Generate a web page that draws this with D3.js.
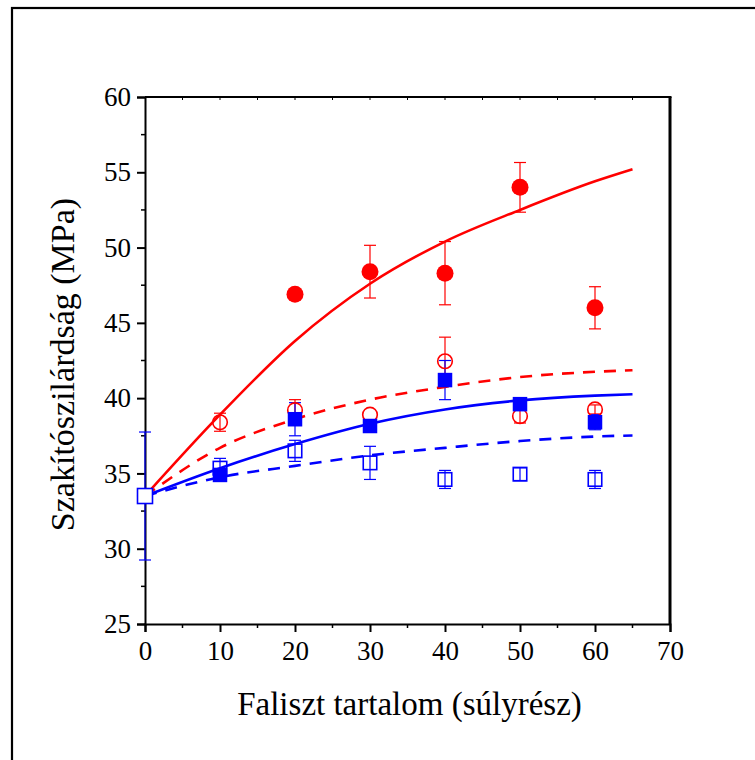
<!DOCTYPE html>
<html>
<head>
<meta charset="utf-8">
<script src="https://cdn.jsdelivr.net/npm/d3@7"></script>
<style>
  html, body { margin: 0; padding: 0; background: #fff; }
  svg { display: block; }
  text { font-family: "Liberation Serif", "Times New Roman", serif; fill: #000; }
</style>
</head>
<body>
<svg id="chart" width="755" height="760"></svg>
<script>
// Wood flour content (parts by weight)
const xValues = [0, 10, 20, 30, 40, 50, 60];

// Measured tensile strength (MPa) with standard deviations
const filledCircleY   = [null, null, 46.9, 48.4, 48.3, 54.0, 46.0];
const filledCircleErr = [null, null, 0, 1.75, 2.1, 1.65, 1.4];
const openCircleY     = [33.5, 38.4, 39.2, 38.9, 42.45, 38.8, 39.25];
const openCircleErr   = [0, 0.6, 0.7, 0, 1.6, 0.45, 0.3];
const filledSquareY   = [33.5, 34.9, 38.6, 38.15, 41.2, 39.6, 38.4];
const filledSquareErr = [0, 0, 1.1, 0, 1.3, 0, 0.5];
const openSquareY     = [33.5, 35.35, 36.5, 35.7, 34.6, 34.95, 34.6];
const openSquareErr   = [4.25, 0.65, 0.7, 1.1, 0.6, 0.42, 0.6];

// Fitted trend curves, sampled along x
const fitX          = [0, 10, 20, 30, 40, 50, 60, 65];
const fitSolidRed   = [33.5, 38.9, 43.8, 47.6, 50.4, 52.5, 54.4, 55.2];
const fitDashedRed  = [33.5, 36.7, 38.6, 39.9, 40.75, 41.4, 41.75, 41.85];
const fitSolidBlue  = [33.5, 35.35, 36.95, 38.3, 39.25, 39.85, 40.17, 40.26];
const fitDashedBlue = [33.5, 34.75, 35.5, 36.2, 36.7, 37.15, 37.45, 37.52];

const xTicks = [0, 10, 20, 30, 40, 50, 60, 70];
const yTicks = [25, 30, 35, 40, 45, 50, 55, 60];

const RED = "#ff0000", BLUE = "#0000ff";
const SERIF = "'Liberation Serif', 'Times New Roman', serif";

const svg = d3.select("#chart");

// outer figure frame (continues past the right and bottom edges)
svg.append("rect")
  .attr("x", 12).attr("y", 8).attr("width", 800).attr("height", 800)
  .attr("fill", "none").attr("stroke", "#000").attr("stroke-width", 2.2);

const pLeft = 145, pRight = 670, pTop = 97, pBottom = 624;
const x = d3.scaleLinear().domain([0, 70]).range([pLeft, pRight]);
const y = d3.scaleLinear().domain([25, 60]).range([pBottom, pTop]);

// axes
const xAxis = d3.axisBottom(x).tickValues(xTicks).tickSize(8).tickPadding(9).tickFormat(d3.format("d"));
const yAxis = d3.axisLeft(y).tickValues(yTicks).tickSize(8).tickPadding(6).tickFormat(d3.format("d"));

const gx = svg.append("g").attr("transform", `translate(0,${pBottom})`).call(xAxis);
const gy = svg.append("g").attr("transform", `translate(${pLeft},0)`).call(yAxis);
[gx, gy].forEach(g => {
  g.attr("font-family", SERIF);
  g.select(".domain").attr("stroke-width", 2).attr("stroke", "#000");
  g.selectAll(".tick line").attr("stroke-width", 2).attr("stroke", "#000");
  g.selectAll(".tick text").style("font-size", "27px").style("font-family", SERIF);
});

// minor ticks
const xMinor = d3.range(5, 70, 10);
const yMinor = d3.range(27.5, 60, 5);
gx.selectAll(".minor").data(xMinor).enter().append("line")
  .attr("x1", d => x(d)).attr("x2", d => x(d)).attr("y1", 0).attr("y2", 4)
  .attr("stroke", "#000").attr("stroke-width", 1.5);
gy.selectAll(".minor").data(yMinor).enter().append("line")
  .attr("y1", d => y(d)).attr("y2", d => y(d)).attr("x1", 0).attr("x2", -4)
  .attr("stroke", "#000").attr("stroke-width", 1.5);

// top and right frame with small inward ticks
svg.append("line").attr("x1", pLeft).attr("x2", pRight + 1.5).attr("y1", pTop).attr("y2", pTop)
  .attr("stroke", "#000").attr("stroke-width", 2);
svg.append("line").attr("x1", pRight).attr("x2", pRight).attr("y1", pTop).attr("y2", pBottom)
  .attr("stroke", "#000").attr("stroke-width", 3);
svg.append("g").selectAll("line").data(d3.range(5, 70, 5)).enter().append("line")
  .attr("x1", d => x(d)).attr("x2", d => x(d)).attr("y1", pTop).attr("y2", pTop + 3)
  .attr("stroke", "#000").attr("stroke-width", 1);

// axis titles
svg.append("text").attr("x", (pLeft + pRight) / 2 + 2).attr("y", 715)
  .attr("text-anchor", "middle").style("font-size", "33px").style("font-family", SERIF)
  .text("Faliszt tartalom (súlyrész)");
svg.append("text").attr("transform", `translate(74,${(pTop + pBottom) / 2 + 4}) rotate(-90)`)
  .attr("text-anchor", "middle").style("font-size", "34px").style("font-family", SERIF)
  .text("Szakítószilárdság (MPa)");

const plot = svg.append("g");

function errorBars(vals, errs, color) {
  const pts = xValues.map((xv, i) => ({ x: xv, y: vals[i], e: errs[i] }))
    .filter(d => d.y != null && d.e > 0);
  const g = plot.append("g").attr("stroke", color).attr("stroke-width", 1.2).attr("fill", "none");
  pts.forEach(d => {
    g.append("line").attr("x1", x(d.x)).attr("x2", x(d.x)).attr("y1", y(d.y - d.e)).attr("y2", y(d.y + d.e));
    [d.y - d.e, d.y + d.e].forEach(v => {
      g.append("line").attr("x1", x(d.x) - 6).attr("x2", x(d.x) + 6).attr("y1", y(v)).attr("y2", y(v));
    });
  });
}

function fitLine(vals, color, dashed) {
  const line = d3.line().x((d, i) => x(fitX[i])).y(d => y(d)).curve(d3.curveMonotoneX);
  plot.append("path").datum(vals).attr("d", line)
    .attr("fill", "none").attr("stroke", color).attr("stroke-width", 2.6)
    .attr("stroke-dasharray", dashed ? "12,9" : null);
}

function points(vals, shape, filled, color) {
  const pts = xValues.map((xv, i) => ({ x: xv, y: vals[i] })).filter(d => d.y != null);
  const g = plot.append("g");
  pts.forEach(d => {
    let m;
    if (shape === "circle") {
      m = g.append("circle").attr("cx", x(d.x)).attr("cy", y(d.y)).attr("r", filled ? 8.5 : 7.3);
    } else {
      const s = filled ? 14.5 : 13.5;
      m = g.append("rect").attr("x", x(d.x) - s / 2).attr("y", y(d.y) - s / 2).attr("width", s).attr("height", s);
    }
    if (filled) m.attr("fill", color);
    else m.attr("fill", "none").attr("stroke", color).attr("stroke-width", 1.6);
  });
}

// error bars
errorBars(openCircleY, openCircleErr, RED);
errorBars(filledCircleY, filledCircleErr, RED);
errorBars(openSquareY, openSquareErr, BLUE);
errorBars(filledSquareY, filledSquareErr, BLUE);

// open markers
points(openCircleY, "circle", false, RED);
points(openSquareY, "rect", false, BLUE);

// trend curves
fitLine(fitSolidRed, RED, false);
fitLine(fitDashedRed, RED, true);
fitLine(fitSolidBlue, BLUE, false);
fitLine(fitDashedBlue, BLUE, true);

// filled markers
points(filledCircleY, "circle", true, RED);
points(filledSquareY, "rect", true, BLUE);

// the shared starting point is drawn as an open square on top
const originG = plot.append("g");
originG.append("rect")
  .attr("x", x(xValues[0]) - 7.5).attr("y", y(openSquareY[0]) - 7.5)
  .attr("width", 15).attr("height", 15)
  .attr("fill", "#fff").attr("stroke", BLUE).attr("stroke-width", 1.6);
</script>
</body>
</html>
